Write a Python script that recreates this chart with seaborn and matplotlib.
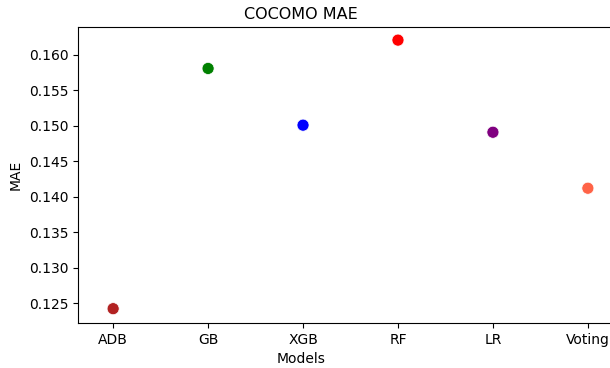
import matplotlib
matplotlib.use("Agg")
import matplotlib.pyplot as plt
import seaborn as sns
import pandas as pd

models = ["ADB", "GB", "XGB", "RF", "LR", "Voting"]
mae = [0.1242, 0.1581, 0.1501, 0.1621, 0.1491, 0.1412]
colors = ["firebrick", "green", "blue", "red", "purple", "tomato"]

df = pd.DataFrame({"Models": models, "MAE": mae})

fig = plt.figure(figsize=(6.10, 3.68), dpi=100)
ax = fig.add_axes([78/610, 1 - 323/368, (623 - 78)/610, (323 - 27)/368])
sns.scatterplot(data=df, x="Models", y="MAE", hue="Models", palette=colors,
                s=75, edgecolor="white", linewidth=0.5, legend=False, ax=ax)
ax.set_xlim(-0.37, 5.37)
ax.set_ylim(0.12218, 0.16395)
ax.set_yticks([0.125, 0.130, 0.135, 0.140, 0.145, 0.150, 0.155, 0.160])
cx = (301 - 78) / 545
ax.set_title("COCOMO MAE", fontsize=11.5, x=cx)
ax.set_xlabel("Models", fontsize=10)
ax.xaxis.label.set_x(cx)
ax.set_ylabel("MAE", fontsize=10)
ax.tick_params(labelsize=10)
fig.savefig("out.png", dpi=100)
